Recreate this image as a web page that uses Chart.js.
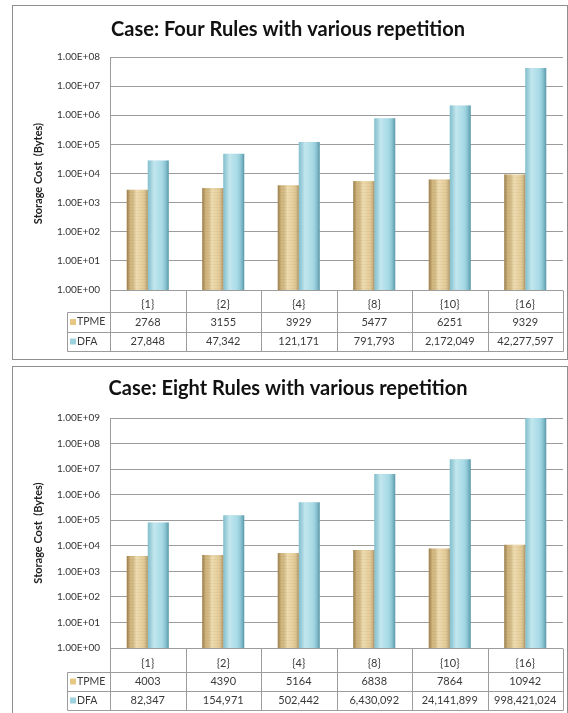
<!DOCTYPE html>
<html>
<head>
<meta charset="utf-8">
<script src="https://cdn.jsdelivr.net/npm/chart.js@4.4.0/dist/chart.umd.min.js"></script>
<style>
  html, body { margin: 0; padding: 0; background: #fff; }
  body { width: 568px; height: 713px; position: relative; overflow: hidden; }
  .panel { position: absolute; left: 12px; width: 556px; box-sizing: border-box;
           border: 1px solid #8e8e8e; background: #fff; }
  #p1 { top: 5px; height: 355px; }
  #p2 { top: 366px; height: 352px; }
  canvas { display: block; }
</style>
</head>
<body>
<div class="panel" id="p1"><canvas id="c1" width="554" height="353"></canvas></div>
<div class="panel" id="p2"><canvas id="c2" width="554" height="350"></canvas></div>
<script>
// Repetition counts shown on the category axis
const categories = ['{1}', '{2}', '{4}', '{8}', '{10}', '{16}'];

// Storage cost in bytes, four rules
const fourTPME = [2768, 3155, 3929, 5477, 6251, 9329];
const fourDFA  = [27848, 47342, 121171, 791793, 2172049, 42277597];

// Storage cost in bytes, eight rules
const eightTPME = [4003, 4390, 5164, 6838, 7864, 10942];
const eightDFA  = [82347, 154971, 502442, 6430092, 24141899, 998421024];

// Log-axis tick values (powers of ten)
const fourTicks  = [1, 10, 100, 1e3, 1e4, 1e5, 1e6, 1e7, 1e8];
const eightTicks = [1, 10, 100, 1e3, 1e4, 1e5, 1e6, 1e7, 1e8, 1e9];

const FONT = 'Lato, "Open Sans", sans-serif';
const GRID = '#9c9c9c';
const TPME_COLOR = '#E2C88E';
const DFA_COLOR  = '#A2D9E5';

// "1.00E+08" style labels
function sciLabel(v) {
  const [m, ex] = Number(v).toExponential(2).split('e');
  const sign = ex[0] === '-' ? '-' : '+';
  const digits = ex.replace(/^[+-]/, '').padStart(2, '0');
  return m + 'E' + sign + digits;
}
const plainFmt = v => String(v);
const commaFmt = v => v.toLocaleString('en-US');

// Cylinder-like shading over each bar, plus the data table under the plot
const tablePlugin = {
  id: 'dataTable',
  afterDatasetsDraw(chart) {
    const ctx = chart.ctx;
    ctx.save();
    chart.data.datasets.forEach((ds, di) => {
      const meta = chart.getDatasetMeta(di);
      meta.data.forEach(bar => {
        const { x, y, base, width } = bar.getProps(['x', 'y', 'base', 'width'], true);
        const l = x - width / 2;
        const h = base - y;
        const g = ctx.createLinearGradient(l, 0, l + width, 0);
        if (di === 0) {
          g.addColorStop(0, 'rgba(95,65,25,0.55)');
          g.addColorStop(0.18, 'rgba(95,65,25,0.12)');
          g.addColorStop(0.45, 'rgba(255,250,230,0.40)');
          g.addColorStop(0.75, 'rgba(255,255,255,0.10)');
          g.addColorStop(1, 'rgba(95,65,25,0.40)');
        } else {
          g.addColorStop(0, 'rgba(60,130,150,0.30)');
          g.addColorStop(0.3, 'rgba(255,255,255,0.35)');
          g.addColorStop(0.6, 'rgba(255,255,255,0.10)');
          g.addColorStop(0.85, 'rgba(50,120,140,0.25)');
          g.addColorStop(1, 'rgba(30,95,115,0.55)');
        }
        ctx.fillStyle = g;
        ctx.fillRect(l, y, width, h);
        if (di === 0) {
          ctx.fillStyle = 'rgba(150,110,50,0.07)';
          for (let yy = base - 2; yy > y; yy -= 3) ctx.fillRect(l, yy, width, 1);
        }
      });
    });
    ctx.restore();
  },
  afterDraw(chart, args, opts) {
    const { ctx, chartArea: ca } = chart;
    const xs = chart.scales.x;
    const rh = opts.rowHeights;
    const y0 = ca.bottom, y1 = y0 + rh[0], y2 = y1 + rh[1], y3 = y2 + rh[2];
    const n = chart.data.labels.length;
    const cw = ca.width / n;
    const legL = ca.left - 43;
    const px = v => Math.round(v) + 0.5;

    ctx.save();
    ctx.strokeStyle = GRID;
    ctx.lineWidth = 1;
    ctx.beginPath();
    for (let i = 0; i <= n; i++) {
      const x = px(ca.left + i * cw);
      ctx.moveTo(x, px(y0));
      ctx.lineTo(x, px(y3));
    }
    ctx.moveTo(px(legL), px(y1));
    ctx.lineTo(px(legL), px(y3));
    [y1, y2, y3].forEach(y => {
      ctx.moveTo(px(legL), px(y));
      ctx.lineTo(px(ca.right), px(y));
    });
    ctx.stroke();

    ctx.fillStyle = '#3a3a3a';
    ctx.font = '11px ' + FONT;
    ctx.textAlign = 'center';
    ctx.textBaseline = 'middle';
    chart.data.labels.forEach((lab, i) => {
      ctx.fillText(lab, xs.getPixelForValue(i), y0 + rh[0] * 0.66);
    });
    const rowMid = [(y1 + y2) / 2, (y2 + y3) / 2];
    chart.data.datasets.forEach((ds, di) => {
      const fmt = opts.formats[di];
      ds.data.forEach((v, i) => {
        ctx.fillText(fmt(v), xs.getPixelForValue(i), rowMid[di]);
      });
      // legend key
      ctx.fillStyle = opts.swatches[di];
      ctx.fillRect(legL + 3, rowMid[di] - 3, 6, 6);
      ctx.fillStyle = '#3a3a3a';
      ctx.textAlign = 'left';
      ctx.font = '10.5px ' + FONT;
      ctx.fillText(ds.label, legL + 10, rowMid[di]);
      ctx.font = '11px ' + FONT;
      ctx.textAlign = 'center';
    });
    ctx.restore();
  }
};

function makeChart(id, title, tpme, dfa, ticks, titlePad, rowHeights, padBottom) {
  return new Chart(document.getElementById(id), {
    type: 'bar',
    data: {
      labels: categories,
      datasets: [
        { label: 'TPME', data: tpme, backgroundColor: TPME_COLOR, borderWidth: 0 },
        { label: 'DFA', data: dfa, backgroundColor: DFA_COLOR, borderWidth: 0 }
      ]
    },
    options: {
      responsive: false,
      animation: false,
      devicePixelRatio: 1,
      layout: { padding: { left: 0, right: 4, top: 0, bottom: padBottom } },
      datasets: { bar: { categoryPercentage: 0.556, barPercentage: 1.0 } },
      plugins: {
        legend: { display: false },
        tooltip: { enabled: false },
        title: {
          display: true,
          text: title,
          color: '#111',
          font: { family: FONT, weight: 'bold', size: 20, lineHeight: 1.2 },
          padding: titlePad
        },
        dataTable: {
          rowHeights: rowHeights,
          formats: [plainFmt, commaFmt],
          swatches: ['#E6C784', '#9DD2DE']
        }
      },
      scales: {
        x: { type: 'category', display: false, offset: true },
        y: {
          type: 'logarithmic',
          min: ticks[0],
          max: ticks[ticks.length - 1],
          afterBuildTicks: s => { s.ticks = ticks.map(v => ({ value: v })); },
          afterFit: s => { s.width = 97; },
          grid: { color: GRID, lineWidth: 1, drawTicks: false },
          border: { display: true, color: GRID },
          ticks: {
            padding: 10,
            color: '#333',
            font: { family: FONT, size: 10 },
            autoSkip: false,
            callback: v => sciLabel(v)
          },
          title: {
            display: true,
            text: 'Storage Cost  (Bytes)',
            color: '#222',
            font: { family: FONT, weight: 'bold', size: 11, lineHeight: 1.2 },
            padding: { top: 19, bottom: 0 }
          }
        }
      }
    },
    plugins: [tablePlugin]
  });
}

makeChart('c1', 'Case: Four Rules with various repetition', fourTPME, fourDFA, fourTicks,
          { top: 12, bottom: 15 }, [22, 20, 19], 69);
makeChart('c2', 'Case: Eight Rules with various repetition', eightTPME, eightDFA, eightTicks,
          { top: 10, bottom: 17 }, [24, 19, 19], 69);
</script>
</body>
</html>
